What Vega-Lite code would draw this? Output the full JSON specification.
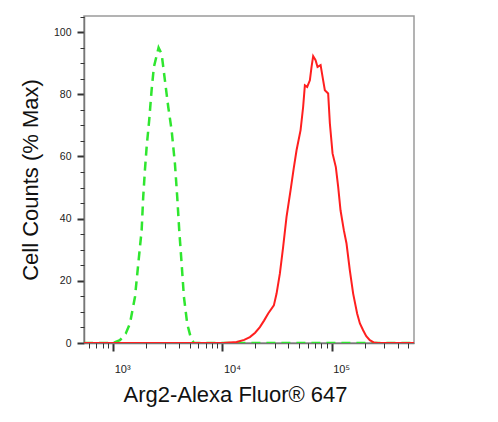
{
  "$schema": "https://vega.github.io/schema/vega-lite/v6.json",
  "width": 330,
  "height": 327,
  "autosize": {"type": "none"},
  "padding": {"left": 84, "top": 16, "right": 84, "bottom": 79},
  "background": "white",
  "config": {
    "view": {"stroke": "#9a9a9a", "strokeWidth": 1.5},
    "axis": {"grid": false, "labelFont": "Liberation Sans", "titleFont": "Liberation Sans", "labelFlush": false, "labelOverlap": false}
  },
  "datasets": {
    "control": [
      {"intensity": 540, "pct": 0},
      {"intensity": 1000, "pct": 0},
      {"intensity": 1151, "pct": 0.9},
      {"intensity": 1300, "pct": 3},
      {"intensity": 1421, "pct": 6.2},
      {"intensity": 1581, "pct": 14.8},
      {"intensity": 1695, "pct": 25.5},
      {"intensity": 1820, "pct": 36.3},
      {"intensity": 1881, "pct": 47},
      {"intensity": 1950, "pct": 55.6},
      {"intensity": 2021, "pct": 63},
      {"intensity": 2134, "pct": 71.7},
      {"intensity": 2244, "pct": 81.3},
      {"intensity": 2356, "pct": 88.8},
      {"intensity": 2600, "pct": 95},
      {"intensity": 2773, "pct": 93},
      {"intensity": 2972, "pct": 84.5},
      {"intensity": 3186, "pct": 76},
      {"intensity": 3421, "pct": 68.5},
      {"intensity": 3670, "pct": 57.7},
      {"intensity": 3852, "pct": 47},
      {"intensity": 4018, "pct": 36.3},
      {"intensity": 4227, "pct": 25.5},
      {"intensity": 4436, "pct": 14.8},
      {"intensity": 4755, "pct": 6.2},
      {"intensity": 5109, "pct": 1.9},
      {"intensity": 5470, "pct": 0},
      {"intensity": 566000, "pct": 0}
    ],
    "arg2": [
      {"intensity": 540, "pct": 0},
      {"intensity": 10140, "pct": 0},
      {"intensity": 13450, "pct": 0.3},
      {"intensity": 15800, "pct": 1},
      {"intensity": 17810, "pct": 1.9},
      {"intensity": 19900, "pct": 3.3},
      {"intensity": 21990, "pct": 5.1},
      {"intensity": 24000, "pct": 7.2},
      {"intensity": 26190, "pct": 9.5},
      {"intensity": 29520, "pct": 12.1},
      {"intensity": 31260, "pct": 15.9},
      {"intensity": 33500, "pct": 22.3},
      {"intensity": 35910, "pct": 30.9},
      {"intensity": 38560, "pct": 40.6},
      {"intensity": 41960, "pct": 49.1},
      {"intensity": 44800, "pct": 56},
      {"intensity": 47620, "pct": 62},
      {"intensity": 51840, "pct": 68.5},
      {"intensity": 54740, "pct": 76},
      {"intensity": 56750, "pct": 82.9},
      {"intensity": 59580, "pct": 82.4},
      {"intensity": 63050, "pct": 84.5},
      {"intensity": 65330, "pct": 88.8},
      {"intensity": 67590, "pct": 92.3},
      {"intensity": 71110, "pct": 91},
      {"intensity": 74130, "pct": 88.8},
      {"intensity": 79060, "pct": 89.4},
      {"intensity": 83450, "pct": 84.5},
      {"intensity": 86450, "pct": 81.3},
      {"intensity": 92710, "pct": 80.3},
      {"intensity": 96120, "pct": 70.6},
      {"intensity": 101700, "pct": 61},
      {"intensity": 109000, "pct": 56.6},
      {"intensity": 114500, "pct": 50.2},
      {"intensity": 120300, "pct": 42.7},
      {"intensity": 129000, "pct": 36.3},
      {"intensity": 136500, "pct": 32},
      {"intensity": 146400, "pct": 23.4},
      {"intensity": 157000, "pct": 15.9},
      {"intensity": 170700, "pct": 9.5},
      {"intensity": 181000, "pct": 6.3},
      {"intensity": 193700, "pct": 4.1},
      {"intensity": 207000, "pct": 2.2},
      {"intensity": 223100, "pct": 0.9},
      {"intensity": 242000, "pct": 0.2},
      {"intensity": 265700, "pct": 0},
      {"intensity": 566000, "pct": 0}
    ]
  },
  "resolve": {"axis": {"x": "independent", "y": "independent"}},
  "layer": [
    {
      "data": {"name": "control"},
      "mark": {"type": "line", "color": "#2fe62f", "strokeWidth": 2.5, "strokeDash": [9, 6], "clip": true},
      "encoding": {
        "x": {
          "field": "intensity", "type": "quantitative",
          "scale": {"type": "log", "domain": [540, 566000], "nice": false},
          "axis": {
            "orient": "bottom",
            "values": [1000, 10000, 100000],
            "labelExpr": "'10' + (datum.value == 1000 ? '³' : datum.value == 10000 ? '⁴' : '⁵')",
            "labelAlign": "left", "labelOffset": 1, "labelBaseline": "alphabetic",
            "labelFontSize": 11, "labelColor": "#222",
            "tickSize": 8, "tickWidth": 2, "tickColor": "#333", "labelPadding": 21,
            "domainColor": "#777", "domainWidth": 1.5,
            "title": "Arg2-Alexa Fluor® 647",
            "titleFontSize": 22, "titleFontWeight": "normal", "titleColor": "#111",
            "titleBaseline": "alphabetic", "titleX": 151, "titleY": 58
          }
        },
        "y": {
          "field": "pct", "type": "quantitative",
          "scale": {"domain": [0, 105.2], "nice": false},
          "axis": {
            "orient": "left",
            "values": [0, 20, 40, 60, 80, 100],
            "labelFontSize": 10.5, "labelColor": "#222", "labelPadding": 6,
            "tickSize": 7, "tickWidth": 2, "tickColor": "#333",
            "domainColor": "#777", "domainWidth": 1.5,
            "title": "Cell Counts (% Max)",
            "titleFontSize": 22, "titleFontWeight": "normal", "titleColor": "#111",
            "titleBaseline": "alphabetic", "titleX": -47, "titleY": 163.5
          }
        }
      }
    },
    {
      "data": {"name": "arg2"},
      "mark": {"type": "line", "color": "#ff1f1f", "strokeWidth": 2, "clip": true},
      "encoding": {
        "x": {
          "field": "intensity", "type": "quantitative",
          "scale": {"type": "log", "domain": [540, 566000], "nice": false},
          "axis": {
            "orient": "bottom",
            "values": [600, 700, 800, 900, 2000, 3000, 4000, 5000, 6000, 7000, 8000, 9000, 20000, 30000, 40000, 50000, 60000, 70000, 80000, 90000, 200000, 300000, 400000, 500000],
            "labels": false, "domain": false, "title": null,
            "tickSize": 5, "tickWidth": 1, "tickColor": "#333"
          }
        },
        "y": {
          "field": "pct", "type": "quantitative",
          "scale": {"domain": [0, 105.2], "nice": false},
          "axis": {
            "orient": "left",
            "values": [5, 10, 15, 25, 30, 35, 45, 50, 55, 65, 70, 75, 85, 90, 95, 105],
            "labels": false, "domain": false, "title": null,
            "tickSize": 4, "tickWidth": 1, "tickColor": "#333"
          }
        }
      }
    }
  ]
}
